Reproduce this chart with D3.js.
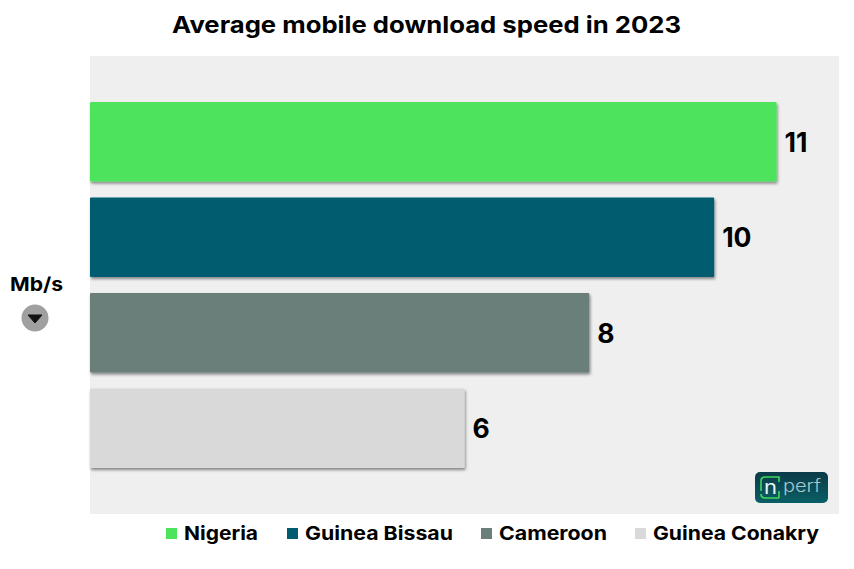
<!DOCTYPE html>
<html><head><meta charset="utf-8">
<script src="https://cdn.jsdelivr.net/npm/d3@7"></script>
<style>html,body{margin:0;padding:0;background:#fff}svg{display:block}text{font-family:Inter,"Noto Sans",sans-serif;font-weight:700;fill:#000}</style>
</head><body><svg id="c" width="854" height="569"></svg>
<script>
const countries=["Nigeria","Guinea Bissau","Cameroon","Guinea Conakry"];
const speeds=[11,10,8,6];
const barColors=["#4de35c","#005c6e","#6a7f7a","#d9d9d9"];
const legendX=[166,287,481,635];
const legendTextWidths=[74,148,108,166];
const titleText="Average mobile download speed in 2023";
const unitText="Mb/s";

const svg=d3.select("#c");
const defs=svg.append("defs");
const f=defs.append("filter").attr("id","sh").attr("x","-5%").attr("y","-10%").attr("width","110%").attr("height","125%");
f.append("feDropShadow").attr("dx",1).attr("dy",2).attr("stdDeviation",1.5).attr("flood-color","#000").attr("flood-opacity",0.45);
const lg=defs.append("linearGradient").attr("id","lg").attr("x1",0).attr("y1",0).attr("x2",0).attr("y2",1);
lg.append("stop").attr("offset",0).attr("stop-color","#0a3a48");
lg.append("stop").attr("offset",1).attr("stop-color","#0a5f66");

svg.append("rect").attr("x",90).attr("y",56).attr("width",749).attr("height",458).attr("fill","#efefef");
const x=d3.scaleLinear().domain([0,12]).range([90,839]);
const y=d3.scaleBand().domain(countries).range([102,468]).paddingInner(16/96);

svg.selectAll("rect.bar").data(countries).join("rect").attr("class","bar")
 .attr("x",x(0)).attr("y",d=>y(d)).attr("height",y.bandwidth()).attr("rx",1)
 .attr("width",(d,i)=>x(speeds[i])-x(0)).attr("fill",(d,i)=>barColors[i]).attr("filter","url(#sh)");
svg.selectAll("text.val").data(countries).join("text").attr("class","val")
 .attr("x",(d,i)=>x(speeds[i])+8).attr("y",d=>y(d)+y.bandwidth()/2+10)
 .attr("font-size",26.5).text((d,i)=>speeds[i]);

svg.append("text").attr("x",172).attr("y",33).attr("font-size",22.5)
 .attr("textLength",509).attr("lengthAdjust","spacingAndGlyphs").text(titleText);
svg.append("text").attr("x",10).attr("y",291).attr("font-size",19)
 .attr("textLength",53).attr("lengthAdjust","spacingAndGlyphs").text(unitText);
svg.append("circle").attr("cx",35).attr("cy",318).attr("r",13.5).attr("fill","#a0a0a0");
svg.append("path").attr("d",d3.line()([[28,315],[42,315],[35,323]])+"Z").attr("fill","#111").attr("stroke","#111").attr("stroke-linejoin","round");

const lgd=svg.selectAll("g.lg").data(countries).join("g").attr("class","lg").attr("transform",(d,i)=>`translate(${legendX[i]},0)`);
lgd.append("rect").attr("x",0).attr("y",528).attr("width",11).attr("height",11).attr("fill",(d,i)=>barColors[i]);
lgd.append("text").attr("x",18).attr("y",540).attr("font-size",19)
 .attr("textLength",(d,i)=>legendTextWidths[i]).attr("lengthAdjust","spacingAndGlyphs").text(d=>d);

const logo=svg.append("g").attr("transform","translate(755,472)");
logo.append("rect").attr("width",73).attr("height",31).attr("rx",5).attr("fill","url(#lg)");
logo.append("path").attr("d","M6,19 V9 Q6,5 10,5 H24 V10 M24,26 H10 Q6,26 6,22 M24,26 V19").attr("fill","none").attr("stroke","#3fd65a").attr("stroke-width",1.6);
logo.append("text").attr("x",9).attr("y",22).attr("font-size",20).style("font-weight",400).style("fill","#e8f4f4").attr("textLength",13).attr("lengthAdjust","spacingAndGlyphs").text("n");
logo.append("text").attr("x",28).attr("y",20).attr("font-size",17).style("font-weight",300).style("fill","#a9c6c9").attr("textLength",38).attr("lengthAdjust","spacingAndGlyphs").text("perf");
</script></body></html>
